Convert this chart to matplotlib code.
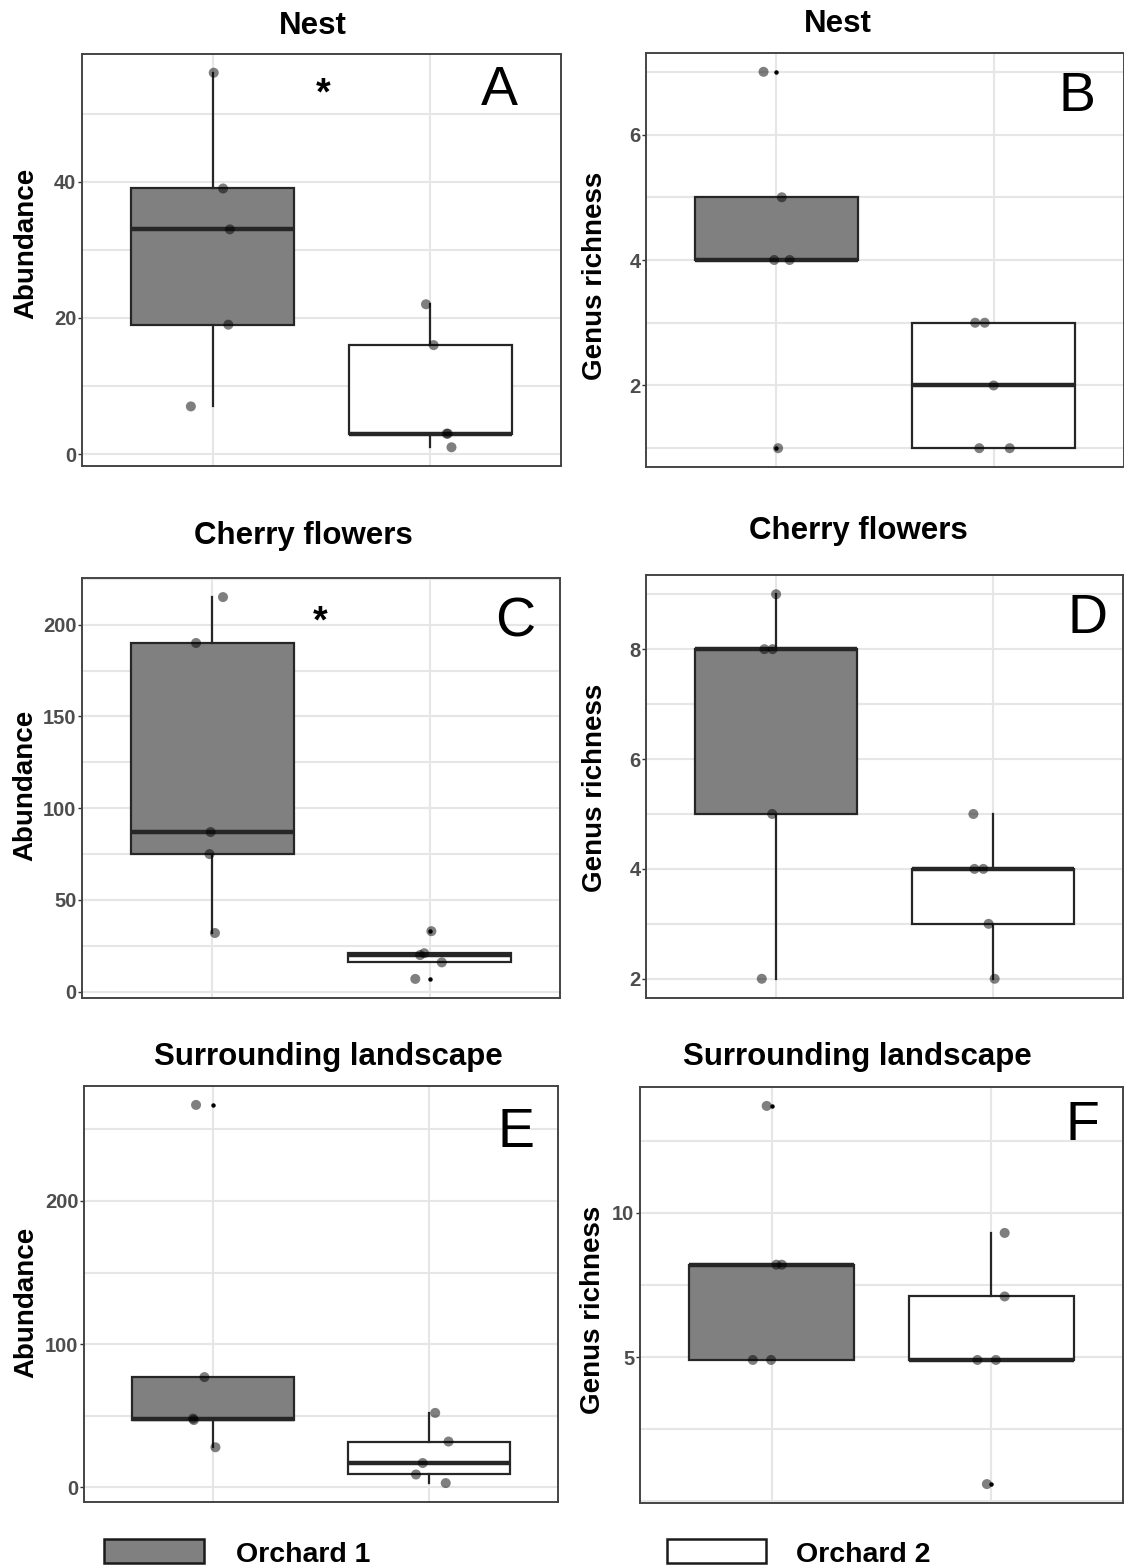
import matplotlib
matplotlib.use("Agg")
import matplotlib.pyplot as plt
from matplotlib import font_manager
from matplotlib.ticker import FixedLocator, MultipleLocator, NullFormatter
from matplotlib.patches import Rectangle
import numpy as np

# ---------------- data ----------------
groups = ["Orchard 1", "Orchard 2"]

nest_abund_o1 = [56, 39, 33, 19, 7]
nest_abund_o2 = [22, 16, 3, 3, 1]
nest_rich_o1 = [7, 5, 4, 4, 1]
nest_rich_o2 = [3, 3, 2, 1, 1]
cherry_abund_o1 = [215, 190, 87, 75, 32]
cherry_abund_o2 = [33, 21, 20, 16, 7]
cherry_rich_o1 = [9, 8, 8, 5, 2]
cherry_rich_o2 = [5, 4, 4, 3, 2]
land_abund_o1 = [267, 77, 48, 47, 28]
land_abund_o2 = [52, 32, 17, 9, 3]
land_rich_o1 = [13.7, 8.2, 8.2, 4.9, 4.9]
land_rich_o2 = [9.3, 7.1, 4.9, 4.9, 0.6]

# horizontal jitter of the points (category units)
jit_nest_abund_o1 = [0.005, 0.048, 0.079, 0.072, -0.10]
jit_nest_abund_o2 = [-0.02, 0.015, 0.075, 0.08, 0.097]
jit_nest_rich_o1 = [-0.059, 0.025, -0.01, 0.061, 0.008]
jit_nest_rich_o2 = [-0.085, -0.041, 0.0, -0.066, 0.074]
jit_cherry_abund_o1 = [0.049, -0.075, -0.008, -0.013, 0.012]
jit_cherry_abund_o2 = [0.008, -0.025, -0.044, 0.056, -0.066]
jit_cherry_rich_o1 = [0.0, -0.054, -0.016, -0.018, -0.066]
jit_cherry_rich_o2 = [-0.09, -0.085, -0.044, -0.02, 0.008]
jit_land_abund_o1 = [-0.08, -0.041, -0.094, -0.09, 0.01]
jit_land_abund_o2 = [0.03, 0.092, -0.028, -0.059, 0.079]
jit_land_rich_o1 = [-0.023, 0.021, 0.046, -0.086, -0.003]
jit_land_rich_o2 = [0.061, 0.061, -0.063, 0.021, -0.02]

ticks_nest_abund = [0, 20, 40]
ticks_nest_rich = [2, 4, 6]
ticks_cherry_abund = [0, 50, 100, 150, 200]
ticks_cherry_rich = [2, 4, 6, 8]
ticks_land_abund = [0, 100, 200]
ticks_land_rich = [5, 10]

titles = ["Nest", "Nest", "Cherry flowers", "Cherry flowers",
          "Surrounding landscape", "Surrounding landscape"]
ylabels = ["Abundance", "Genus richness"] * 3
letters = ["A", "B", "C", "D", "E", "F"]
stars = ["*", "", "*", "", "", ""]

# ---------------- fonts ----------------
avail = {f.name for f in font_manager.fontManager.ttflist}
SANS = "Liberation Sans" if "Liberation Sans" in avail else "DejaVu Sans"
NARROW = "Liberation Sans Narrow" if "Liberation Sans Narrow" in avail else SANS
plt.rcParams["font.family"] = [SANS, "DejaVu Sans"]

W, H = 1124, 1566
fig = plt.figure(figsize=(W / 100, H / 100), dpi=100)
fig.patch.set_facecolor("white")


def px_axes(l, t, r, b):
    return fig.add_axes([l / W, 1 - b / H, (r - l) / W, (b - t) / H])


def fx(x):
    return x / W


def fy(y):
    return 1 - y / H


panels = [
    dict(rect=(82, 54, 561, 466), o1=nest_abund_o1, o2=nest_abund_o2,
         j1=jit_nest_abund_o1, j2=jit_nest_abund_o2, ticks=ticks_nest_abund, minor=10,
         title_xy=(313, 34), ylab_x=26, ylab_y=243, letter_xy=(499, 105), star_xy=(323, 104)),
    dict(rect=(646, 53, 1124, 467), o1=nest_rich_o1, o2=nest_rich_o2,
         j1=jit_nest_rich_o1, j2=jit_nest_rich_o2, ticks=ticks_nest_rich, minor=1,
         title_xy=(838, 32), ylab_x=595, ylab_y=276, letter_xy=(1077, 111), star_xy=None),
    dict(rect=(82, 578, 560, 998), o1=cherry_abund_o1, o2=cherry_abund_o2,
         j1=jit_cherry_abund_o1, j2=jit_cherry_abund_o2, ticks=ticks_cherry_abund, minor=25,
         title_xy=(303, 544), ylab_x=25, ylab_y=785, letter_xy=(515, 637), star_xy=(320, 632)),
    dict(rect=(646, 575, 1123, 998), o1=cherry_rich_o1, o2=cherry_rich_o2,
         j1=jit_cherry_rich_o1, j2=jit_cherry_rich_o2, ticks=ticks_cherry_rich, minor=1,
         title_xy=(858, 539), ylab_x=595, ylab_y=788, letter_xy=(1088, 633), star_xy=None),
    dict(rect=(84, 1086, 558, 1502), o1=land_abund_o1, o2=land_abund_o2,
         j1=jit_land_abund_o1, j2=jit_land_abund_o2, ticks=ticks_land_abund, minor=50,
         title_xy=(328, 1065), ylab_x=26, ylab_y=1302, letter_xy=(516, 1147), star_xy=None),
    dict(rect=(640, 1087, 1123, 1503), o1=land_rich_o1, o2=land_rich_o2,
         j1=jit_land_rich_o1, j2=jit_land_rich_o2, ticks=ticks_land_rich, minor=2.5,
         title_xy=(857, 1065), ylab_x=593, ylab_y=1310, letter_xy=(1082, 1140), star_xy=None),
]

GRID = "#e6e6e6"
EDGE = "#262626"
FILL1 = "#808080"

for i, p in enumerate(panels):
    ax = px_axes(*p["rect"])
    o1 = np.asarray(p["o1"], float)
    o2 = np.asarray(p["o2"], float)

    bp = ax.boxplot([o1, o2], positions=[1, 2], widths=0.75, patch_artist=True,
                    whis=1.5, showcaps=False,
                    boxprops=dict(edgecolor=EDGE, linewidth=1.6),
                    whiskerprops=dict(color=EDGE, linewidth=1.6),
                    medianprops=dict(color=EDGE, linewidth=3.2),
                    flierprops=dict(marker="o", markersize=3.2, markerfacecolor="black",
                                    markeredgecolor="none"))
    bp["boxes"][0].set_facecolor(FILL1)
    bp["boxes"][1].set_facecolor("white")
    for b in bp["boxes"]:
        b.set_zorder(2)

    ax.scatter(1 + np.asarray(p["j1"]), o1, s=52, color="black", alpha=0.5,
               edgecolors="none", zorder=4)
    ax.scatter(2 + np.asarray(p["j2"]), o2, s=52, color="black", alpha=0.5,
               edgecolors="none", zorder=4)

    allv = np.concatenate([o1, o2])
    lo, hi = allv.min(), allv.max()
    pad = 0.05 * (hi - lo)
    ax.set_ylim(lo - pad, hi + pad)
    ax.set_xlim(0.4, 2.6)

    ax.yaxis.set_major_locator(FixedLocator(p["ticks"]))
    ax.yaxis.set_minor_locator(MultipleLocator(p["minor"]))
    ax.yaxis.set_minor_formatter(NullFormatter())
    ax.xaxis.set_major_locator(FixedLocator([1, 2]))
    ax.tick_params(axis="x", length=0, labelbottom=False)
    ax.tick_params(axis="y", which="major", length=3, width=1, color="#333333",
                   pad=1, labelsize=14.5, labelcolor="#4d4d4d")
    ax.tick_params(axis="y", which="minor", length=0)
    for lab in ax.get_yticklabels():
        lab.set_fontfamily(NARROW)
        lab.set_fontweight("bold")

    ax.set_axisbelow(True)
    ax.grid(True, axis="y", which="both", color=GRID, lw=1.5)
    ax.grid(True, axis="x", which="major", color=GRID, lw=1.5)
    for s in ax.spines.values():
        s.set_color("#444444")
        s.set_linewidth(1.4)

    tx, ty = p["title_xy"]
    fig.text(fx(tx), fy(ty), titles[i], ha="center", va="baseline",
             fontsize=22.5, fontweight="bold", color="black")
    fig.text(fx(p["ylab_x"]), fy(p["ylab_y"]), ylabels[i], ha="center", va="center",
             rotation=90, fontsize=20, fontweight="bold", color="black")
    lx, ly = p["letter_xy"]
    fig.text(fx(lx), fy(ly), letters[i], ha="center", va="baseline",
             fontsize=40, color="black")
    if p["star_xy"] is not None:
        sx, sy = p["star_xy"]
        fig.text(fx(sx), fy(sy), stars[i], ha="center", va="baseline",
                 fontsize=27, fontweight="bold", color="black")

# ---------------- legend ----------------
fig.patches.append(Rectangle((fx(104), fy(1563)), (204 - 104) / W, (1563 - 1539) / H,
                             transform=fig.transFigure, facecolor=FILL1,
                             edgecolor="#1a1a1a", lw=1.8))
fig.patches.append(Rectangle((fx(667), fy(1563)), (766 - 667) / W, (1563 - 1539) / H,
                             transform=fig.transFigure, facecolor="white",
                             edgecolor="#1a1a1a", lw=1.8))
fig.text(fx(236), fy(1562), groups[0], ha="left", va="baseline",
         fontsize=20.5, fontweight="bold")
fig.text(fx(796), fy(1562), groups[1], ha="left", va="baseline",
         fontsize=20.5, fontweight="bold")

fig.savefig("out.png", dpi=100, facecolor="white")
